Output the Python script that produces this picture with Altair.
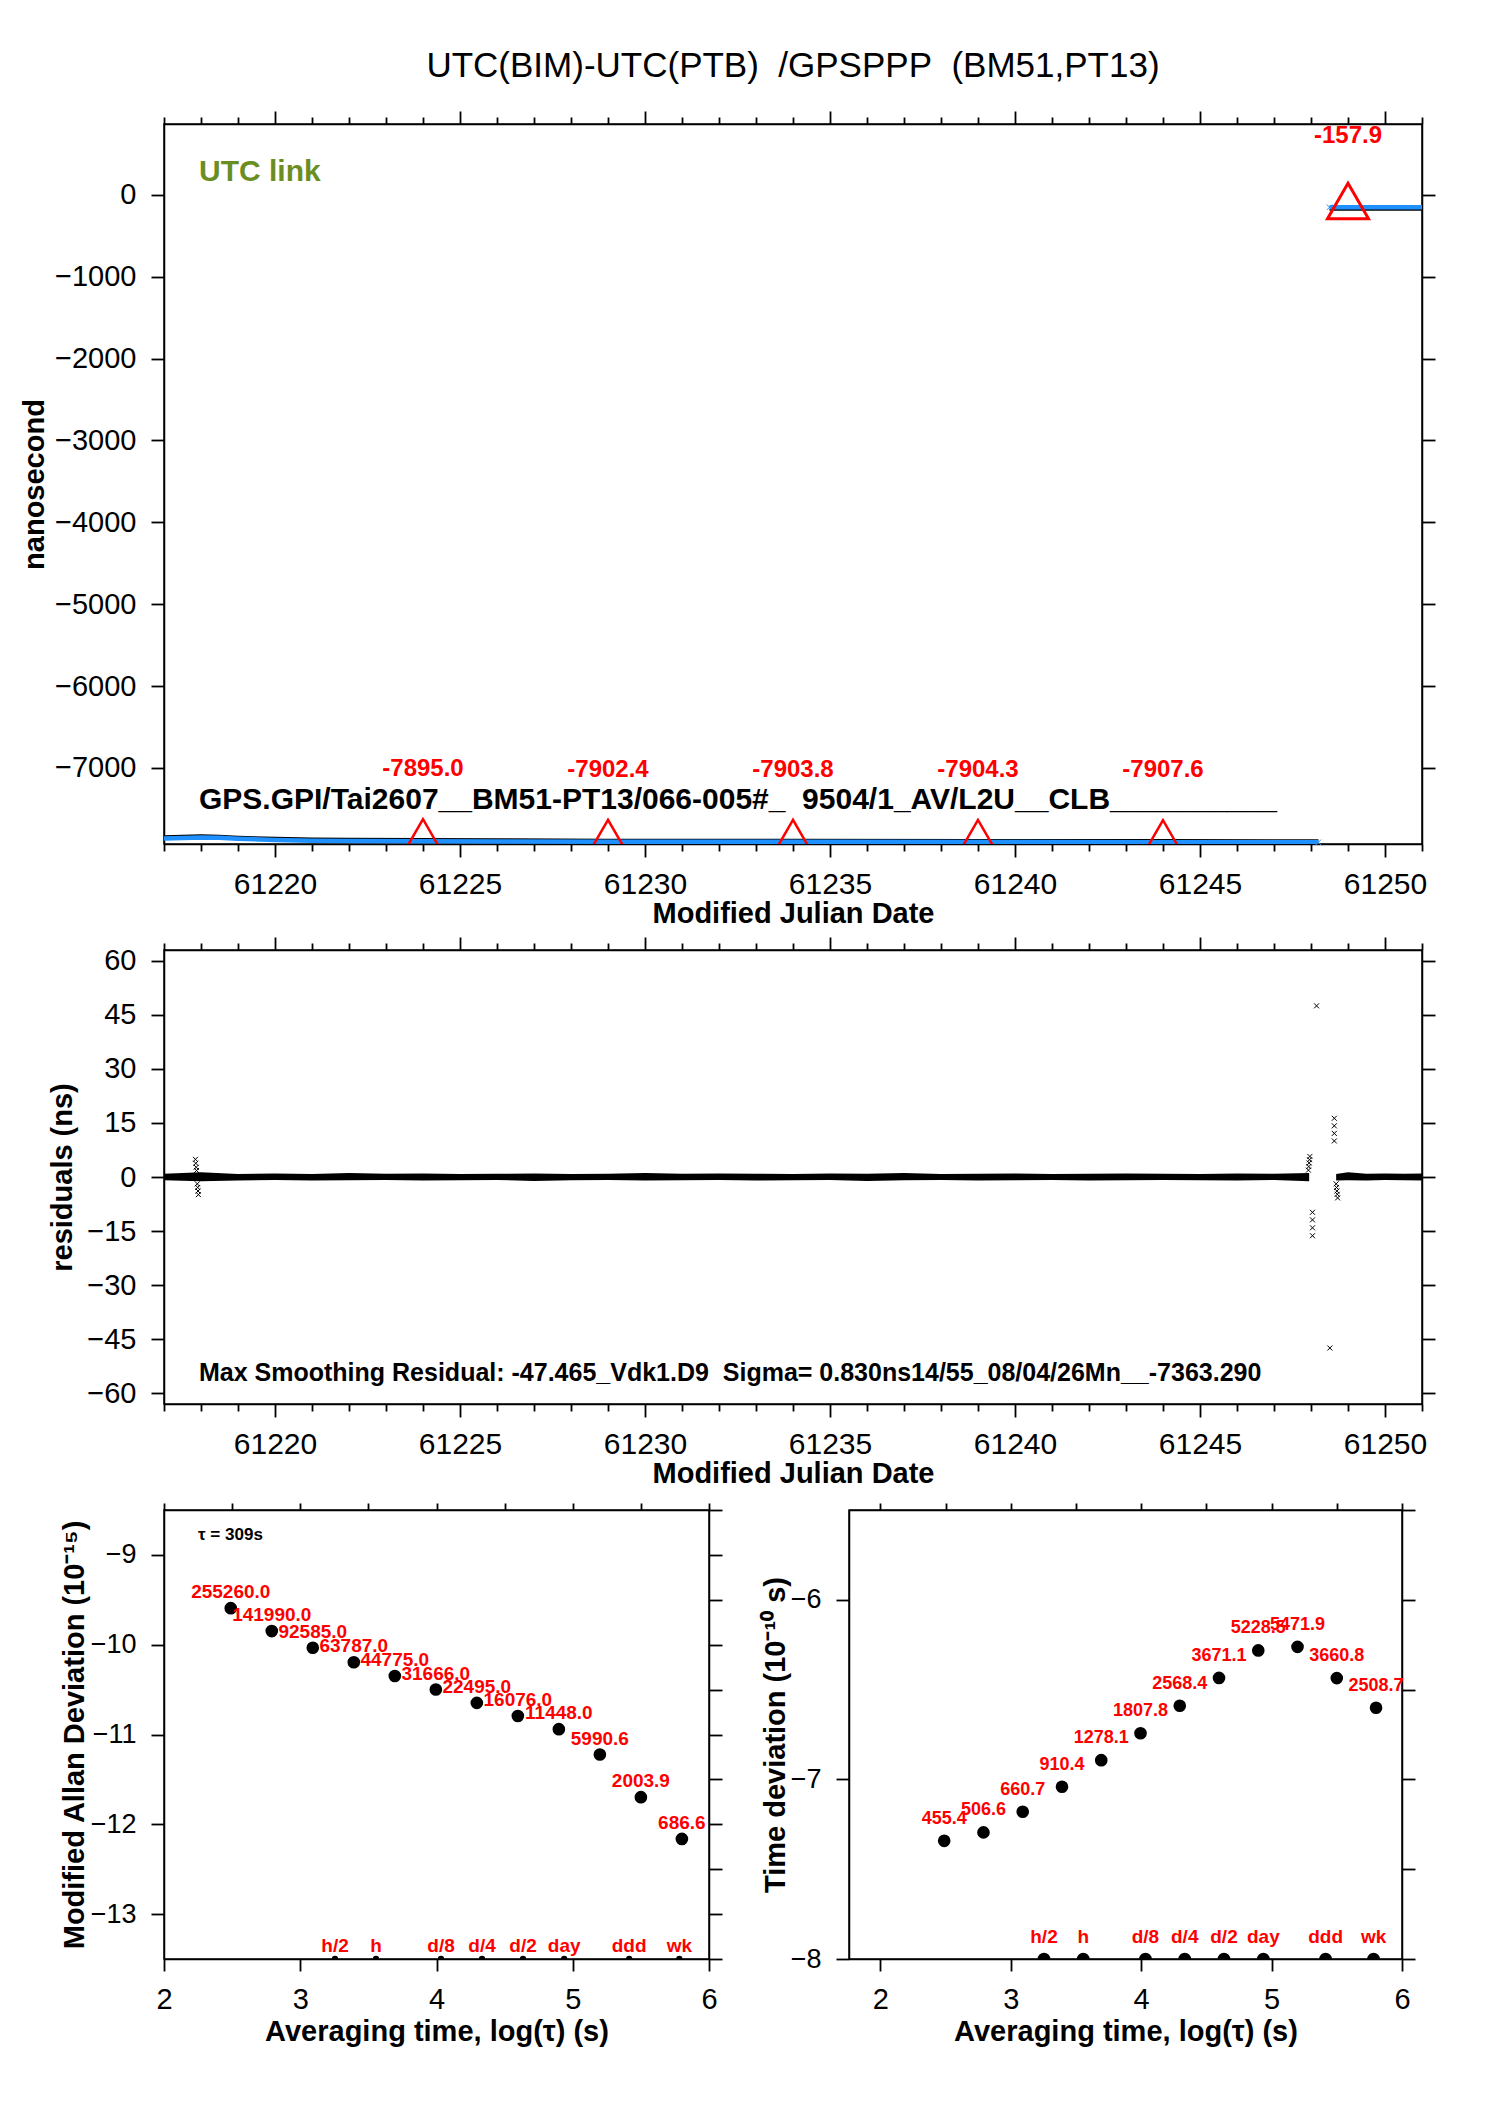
import altair as alt
import pandas as pd

FONT = "Liberation Sans"
RED = "#FF0000"
BLUE = "#1E90FF"
OLIVE = "#6B8E23"
X_SHAPE = "M-1,-1L1,1M1,-1L-1,1"
NB = "\u00a0"

title_text = f"UTC(BIM)-UTC(PTB){NB}{NB}/GPSPPP{NB}{NB}(BM51,PT13)"
link_note = "UTC link"
receiver_note = f"GPS.GPI/Tai2607__BM51-PT13/066-005#_{NB}{NB}9504/1_AV/L2U__CLB__________"
residual_note = f"Max Smoothing Residual: -47.465_Vdk1.D9{NB}{NB}Sigma= 0.830ns14/55_08/04/26Mn__-7363.290"
tau0_note = "τ = 309s"

# --- top panel: UTC link in ns ---
mjd_domain = [61217, 61251]
mjd_ticks = list(range(61217, 61252))
link_domain = [-7930, 867]
link_ticks = [0, -1000, -2000, -3000, -4000, -5000, -6000, -7000]

link_mjd_a = [61217.0, 61217.5, 61218.0, 61218.5, 61219.0, 61220.0, 61221.0, 61222.0,
              61224.0, 61226.0, 61229.0, 61234.0, 61239.0, 61244.0, 61248.2]
link_blue_a = [-7862, -7858, -7850, -7855, -7866, -7880, -7889, -7893,
               -7895.0, -7898, -7902.4, -7903.8, -7904.3, -7907.6, -7909]
link_black_a = [-7835, -7830, -7822, -7828, -7840, -7855, -7864, -7866,
                -7868, -7872, -7877, -7878, -7880, -7882, -7884]
link_mjd_b = [61248.5, 61251.0]
link_blue_b = [-150.0, -150.0]
link_black_b = [-180.0, -180.0]

tri_mjd = [61224, 61229, 61234, 61239, 61244]
tri_val = [-7895.0, -7902.4, -7903.8, -7904.3, -7907.6]
tri_lab = ["-7895.0", "-7902.4", "-7903.8", "-7904.3", "-7907.6"]
big_mjd = [61249]
big_val = [-157.9]
big_lab = ["-157.9"]

# --- middle panel: residuals in ns ---
res_domain = [-63, 63]
res_ticks = [60, 45, 30, 15, 0, -15, -30, -45, -60]
res_mjd_a = [61217.0, 61218.0, 61219.0, 61220.0, 61221.0, 61222.0, 61223.0, 61224.0,
             61225.0, 61226.0, 61227.0, 61228.0, 61229.0, 61230.0, 61231.0, 61232.0,
             61233.0, 61234.0, 61235.0, 61236.0, 61237.0, 61238.0, 61239.0, 61240.0,
             61241.0, 61242.0, 61243.0, 61244.0, 61245.0, 61246.0, 61247.0, 61247.95]
res_hi_a = [0.9, 1.3, 0.8, 1.0, 0.8, 1.1, 0.9, 1.0, 0.8, 0.9, 1.0, 0.8, 0.9, 1.1, 0.9, 1.0,
            0.9, 0.8, 1.0, 0.9, 1.1, 0.8, 0.9, 1.0, 0.8, 0.9, 1.0, 0.9, 0.8, 1.0, 0.9, 1.1]
res_lo_a = [-0.9, -1.2, -1.0, -0.8, -1.0, -0.9, -0.8, -1.0, -0.9, -0.8, -1.1, -0.9, -0.8, -1.0, -0.9, -0.8,
            -1.0, -0.9, -0.8, -1.1, -0.9, -0.8, -1.0, -0.9, -0.8, -1.0, -0.9, -0.8, -0.9, -1.0, -0.8, -1.2]
res_mjd_b = [61248.68, 61249.0, 61249.5, 61250.0, 61250.5, 61251.0]
res_hi_b = [0.8, 1.3, 0.9, 1.0, 0.9, 1.0]
res_lo_b = [-1.0, -0.9, -1.0, -0.8, -0.9, -1.0]

spike_mjd = [61217.85, 61217.86, 61217.87, 61217.88, 61217.90, 61217.91, 61217.92, 61217.93,
             61247.93, 61247.94, 61247.95, 61247.96, 61247.97,
             61248.68, 61248.69, 61248.70, 61248.71, 61248.72]
spike_val = [4.9, 3.8, 2.7, 1.8, -1.9, -2.9, -3.9, -4.9,
             1.9, 2.9, 3.9, 4.8, 5.7,
             -1.9, -2.9, -3.9, -4.8, -5.8]
outlier_mjd = [61248.04, 61248.04, 61248.04, 61248.04, 61248.15, 61248.51,
               61248.63, 61248.63, 61248.63, 61248.63]
outlier_val = [-9.8, -11.9, -14.1, -16.3, 47.5, -47.465, 16.3, 14.2, 12.1, 10.0]

# --- bottom panels: stability, log10 scales ---
tau_log = [2.490, 2.791, 3.092, 3.393, 3.694, 3.995, 4.296, 4.597, 4.898, 5.199, 5.500, 5.801]
mdev_log = [-9.593, -9.848, -10.034, -10.195, -10.349, -10.499,
            -10.648, -10.794, -10.941, -11.223, -11.698, -12.163]
mdev_lab = ["255260.0", "141990.0", "92585.0", "63787.0", "44775.0", "31666.0",
            "22495.0", "16076.0", "11448.0", "5990.6", "2003.9", "686.6"]
tdev_log = [-7.342, -7.295, -7.180, -7.041, -6.893, -6.743,
            -6.590, -6.435, -6.282, -6.262, -6.436, -6.601]
tdev_lab = ["455.4", "506.6", "660.7", "910.4", "1278.1", "1807.8",
            "2568.4", "3671.1", "5228.5", "5471.9", "3660.8", "2508.7"]
span_lab = ["h/2", "h", "d/8", "d/4", "d/2", "day", "ddd", "wk"]
span_log = [3.255, 3.556, 4.033, 4.334, 4.635, 4.937, 5.414, 5.782]

mdev_x_domain = [2.0, 6.0]
tdev_x_domain = [1.76, 6.0]
tau_ticks = [2.0, 2.5, 3.0, 3.5, 4.0, 4.5, 5.0, 5.5, 6.0]
mdev_domain = [-13.5, -8.5]
mdev_major = [-13, -12, -11, -10, -9]
mdev_all = [-13.5, -13.0, -12.5, -12.0, -11.5, -11.0, -10.5, -10.0, -9.5, -9.0, -8.5]
tdev_domain = [-8.0, -5.5]
tdev_major = [-8, -7, -6]
tdev_all = [-8.0, -7.5, -7.0, -6.5, -6.0, -5.5]
tau0_pos = [2.25, -8.78]


def lin(domain):
    return alt.Scale(domain=domain, nice=False, zero=False)


def size_if(test, major, minor):
    return {"condition": {"test": test, "value": major}, "value": minor}


def note(text, x, y, size, color="black", weight="bold", align="left"):
    df = pd.DataFrame({"t": [text]})
    return (
        alt.Chart(df)
        .mark_text(font=FONT, fontSize=size, fontWeight=weight, color=color,
                   align=align, baseline="middle")
        .encode(x=alt.value(x), y=alt.value(y), text="t:N")
    )


def mjd_axes():
    test = "datum.value % 5 === 0"
    bottom = alt.Axis(orient="bottom", values=mjd_ticks, format="d",
                      labelExpr=f"{test} ? datum.label : ''",
                      tickSize=size_if(test, 13, 7), labelPadding=12, labelFontSize=30,
                      title="Modified Julian Date", titleY=69, titleBaseline="middle")
    top = alt.Axis(orient="top", values=mjd_ticks, labels=False,
                   title=None, tickSize=size_if(test, 13, 7))
    return bottom, top


def tau_axes(title):
    test = "datum.value % 1 === 0"
    bottom = alt.Axis(orient="bottom", values=tau_ticks, format="d",
                      labelExpr=f"{test} ? datum.label : ''",
                      tickSize=size_if(test, 12, 7), labelPadding=14,
                      title=title, titleY=72, titleBaseline="middle")
    top = alt.Axis(orient="top", values=tau_ticks, labels=False,
                   title=None, tickSize=7)
    return bottom, top


def value_axes(ticks, title, title_x, font_size=29, right_ticks=None):
    left = alt.Axis(orient="left", values=ticks, format="d",
                    tickSize=13, labelPadding=15, labelFontSize=font_size,
                    title=title, titleX=title_x, titleBaseline="middle")
    right = alt.Axis(orient="right", values=right_ticks or ticks, labels=False,
                     title=None, tickSize=13)
    return left, right


# ---------------- top panel ----------------
W_TOP, H_TOP, H_MID = 1258, 720, 454
mx_bottom, mx_top = mjd_axes()
ly_left, ly_right = value_axes(link_ticks, "nanosecond", -130)

link_df = pd.concat([
    pd.DataFrame({"mjd": link_mjd_a, "blue": link_blue_a, "black": link_black_a, "seg": "a"}),
    pd.DataFrame({"mjd": link_mjd_b, "blue": link_blue_b, "black": link_black_b, "seg": "b"}),
])
ends_df = pd.DataFrame({"mjd": [link_mjd_a[-1], link_mjd_b[0]],
                        "val": [link_blue_a[-1], link_blue_b[0]]})
tri_df = pd.DataFrame({"mjd": tri_mjd, "val": tri_val, "lab": tri_lab})
big_df = pd.DataFrame({"mjd": big_mjd, "val": big_val, "lab": big_lab})

black_line = alt.Chart(link_df).mark_line(color="black", strokeWidth=2, clip=True).encode(
    x=alt.X("mjd:Q", scale=lin(mjd_domain), axis=mx_bottom),
    y=alt.Y("black:Q", scale=lin(link_domain), axis=ly_left),
    detail="seg:N",
)
blue_line = alt.Chart(link_df).mark_line(color=BLUE, strokeWidth=4.5, clip=True).encode(
    x=alt.X("mjd:Q", scale=lin(mjd_domain), axis=mx_top),
    y=alt.Y("blue:Q", scale=lin(link_domain), axis=ly_right),
    detail="seg:N",
)
x_plain = alt.X("mjd:Q", scale=lin(mjd_domain), axis=None)
y_link = alt.Y("val:Q", scale=lin(link_domain), axis=None)

line_ends = alt.Chart(ends_df).mark_point(
    shape=X_SHAPE, size=30, color=BLUE, strokeWidth=1, opacity=1
).encode(x=x_plain, y=y_link)
small_tri = alt.Chart(tri_df).mark_point(
    shape="triangle-up", size=900, filled=False, color=RED, strokeWidth=2.5,
    opacity=1, yOffset=-9, clip=True,
).encode(x=x_plain, y=y_link)
small_lab = alt.Chart(tri_df).mark_text(
    font=FONT, fontSize=24, fontWeight="bold", color=RED, dy=-72, baseline="middle"
).encode(x=x_plain, y=y_link, text="lab:N")
big_tri = alt.Chart(big_df).mark_point(
    shape="triangle-up", size=1681, filled=False, color=RED, strokeWidth=3,
    opacity=1, yOffset=-7,
).encode(x=x_plain, y=y_link)
big_lab = alt.Chart(big_df).mark_text(
    font=FONT, fontSize=24, fontWeight="bold", color=RED, dy=-72, baseline="middle"
).encode(x=x_plain, y=y_link, text="lab:N")

top = alt.layer(
    black_line, blue_line, small_tri, line_ends, big_tri, small_lab, big_lab,
    note(link_note, 35, 48, 30, color=OLIVE),
    note(receiver_note, 35, 676, 30),
    note(title_text, W_TOP / 2, -58, 35, weight="normal", align="center"),
).resolve_axis(x="independent", y="independent").properties(width=W_TOP, height=H_TOP)

# ---------------- middle panel ----------------
rx_bottom, rx_top = mjd_axes()
ry_left, ry_right = value_axes(res_ticks, "residuals (ns)", -102)

band_df = pd.concat([
    pd.DataFrame({"mjd": res_mjd_a, "hi": res_hi_a, "lo": res_lo_a, "seg": "a"}),
    pd.DataFrame({"mjd": res_mjd_b, "hi": res_hi_b, "lo": res_lo_b, "seg": "b"}),
])
cross_df = pd.DataFrame({"mjd": spike_mjd + outlier_mjd, "val": spike_val + outlier_val})

band = alt.Chart(band_df).mark_area(color="black", opacity=1, clip=True).encode(
    x=alt.X("mjd:Q", scale=lin(mjd_domain), axis=rx_bottom),
    y=alt.Y("hi:Q", scale=lin(res_domain), axis=ry_left),
    y2="lo:Q",
    detail="seg:N",
)
crosses = alt.Chart(cross_df).mark_point(
    shape=X_SHAPE, size=25, color="black", strokeWidth=1, opacity=1
).encode(
    x=alt.X("mjd:Q", scale=lin(mjd_domain), axis=rx_top),
    y=alt.Y("val:Q", scale=lin(res_domain), axis=ry_right),
)

middle = alt.layer(
    band, crosses, note(residual_note, 35, 423, 25)
).resolve_axis(x="independent", y="independent").properties(width=W_TOP, height=H_MID)


# ---------------- bottom panels ----------------
def stability_panel(values, labels, x_domain, y_domain, y_major, y_all, y_title,
                    title_x, width, lab_size, lab_dy, span_size, span_dy, tau0=None):
    xb, xt = tau_axes("Averaging time, log(τ) (s)")
    yl, yr = value_axes(y_major, y_title, title_x, font_size=27, right_ticks=y_all)
    df = pd.DataFrame({"tau": tau_log, "val": values, "lab": labels})
    span_df = pd.DataFrame({"tau": span_log, "lab": span_lab, "val": y_domain[0]})
    xs = alt.X("tau:Q", scale=lin(x_domain), axis=None)
    ys = alt.Y("val:Q", scale=lin(y_domain), axis=None)

    dots = alt.Chart(df).mark_circle(size=160, color="black", opacity=1).encode(
        x=alt.X("tau:Q", scale=lin(x_domain), axis=xb),
        y=alt.Y("val:Q", scale=lin(y_domain), axis=yl),
    )
    texts = alt.Chart(df).mark_text(
        font=FONT, fontSize=lab_size, fontWeight="bold", color=RED, dy=lab_dy,
        baseline="middle",
    ).encode(
        x=alt.X("tau:Q", scale=lin(x_domain), axis=xt),
        y=alt.Y("val:Q", scale=lin(y_domain), axis=yr),
        text="lab:N",
    )
    span_dots = alt.Chart(span_df).mark_circle(
        size=span_size, color="black", opacity=1, clip=True
    ).encode(x=xs, y=ys)
    span_text = alt.Chart(span_df).mark_text(
        font=FONT, fontSize=19, fontWeight="bold", color=RED, dy=span_dy, baseline="middle"
    ).encode(x=xs, y=ys, text="lab:N")
    layers = [dots, texts, span_dots, span_text]
    if tau0 is not None:
        tau0_df = pd.DataFrame({"tau": [tau0[0]], "val": [tau0[1]], "lab": [tau0_note]})
        layers.append(
            alt.Chart(tau0_df).mark_text(
                font=FONT, fontSize=17, fontWeight="bold", color="black",
                align="left", baseline="middle",
            ).encode(x=xs, y=ys, text="lab:N")
        )
    return alt.layer(*layers).resolve_axis(x="independent", y="independent").properties(
        width=width, height=449
    )


mdev = stability_panel(mdev_log, mdev_lab, mdev_x_domain, mdev_domain, mdev_major, mdev_all,
                       "Modified Allan Deviation (10⁻¹⁵)", -90, 545, 19, -16, 40, -13,
                       tau0=tau0_pos)
tdev = stability_panel(tdev_log, tdev_lab, tdev_x_domain, tdev_domain, tdev_major, tdev_all,
                       "Time deviation (10⁻¹⁰ s)", -74, 553, 18, -22, 160, -22)

bottom = alt.hconcat(mdev, tdev, spacing=140, bounds="flush")

chart = (
    alt.vconcat(top, middle, bottom, spacing=106, bounds="flush")
    .properties(padding={"left": 11, "top": 40, "right": 10, "bottom": 10})
    .configure_axis(
        labelFont=FONT, labelFontSize=29, labelColor="black",
        titleFont=FONT, titleFontSize=29, titleFontWeight="bold", titleColor="black",
        tickColor="black", tickWidth=1.8, domainColor="black", domainWidth=1.5,
        grid=False, labelFlush=False, labelOverlap=False,
    )
    .configure_view(stroke="black", strokeWidth=1.5)
)

chart.save("out.html", embed_options={"renderer": "svg", "actions": False})
